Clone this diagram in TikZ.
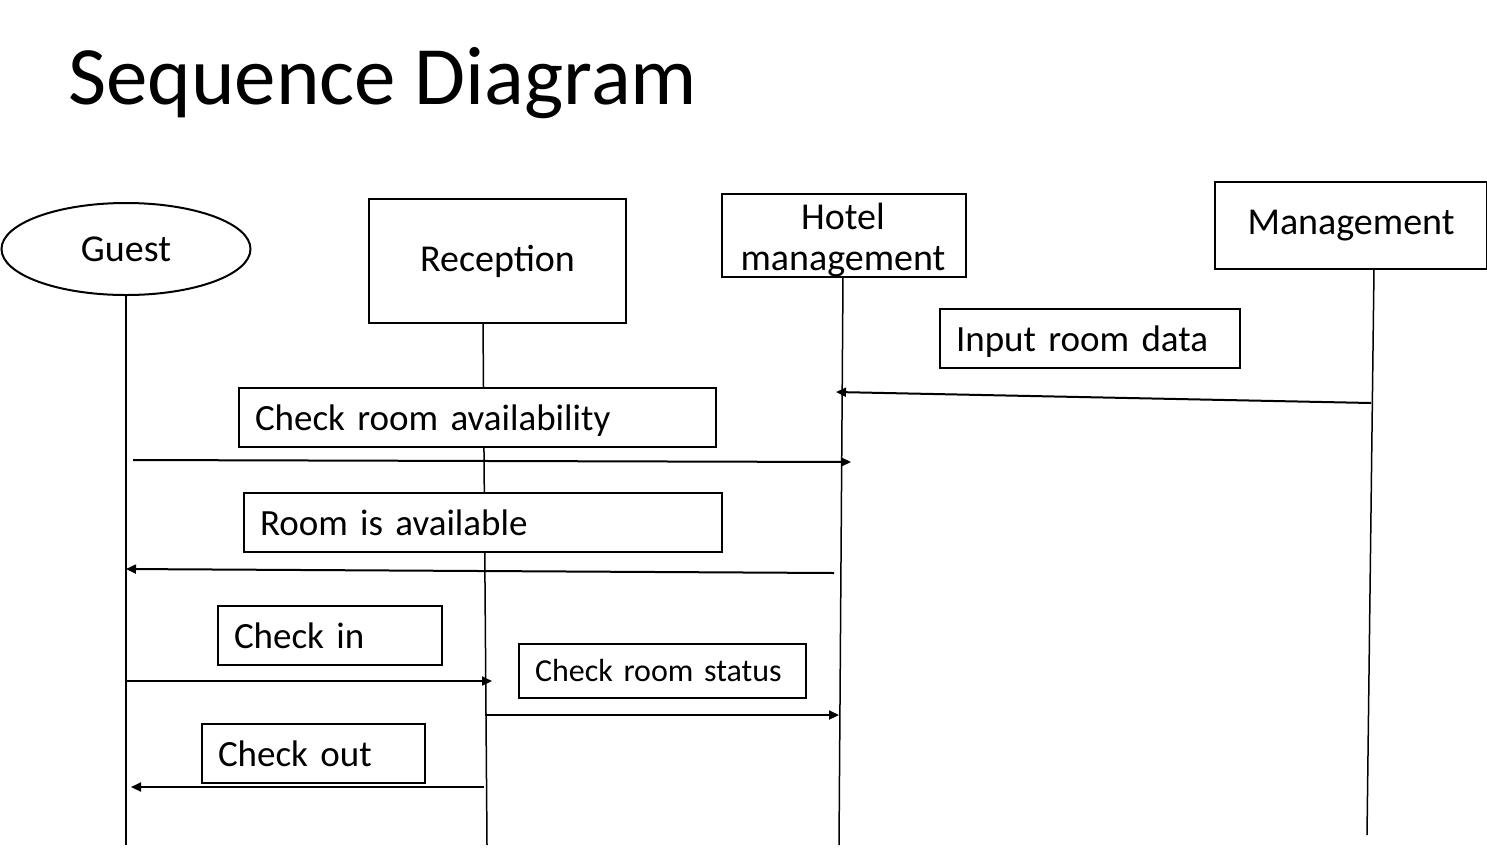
\documentclass[tikz,border=0pt]{standalone}
\usepackage{fontspec}
\setmainfont{Carlito}
\usetikzlibrary{arrows.meta,shapes.geometric}
\tikzset{
  box/.style={draw, fill=white, line width=2pt, rectangle, anchor=north west, inner xsep=16pt, inner ysep=0pt, align=left, text height=29pt, text depth=3pt, font=\fontsize{37}{44}\selectfont},
  actor/.style={draw, fill=white, line width=2pt, anchor=north west, inner sep=0pt, align=center, font=\fontsize{38}{44}\selectfont},
  life/.style={line width=1.5pt},
  msg/.style={line width=2pt, -{Triangle[length=10pt,width=9pt]}},
}
\begin{document}
\begin{tikzpicture}[x=1pt,y=-1pt]
\useasboundingbox (0,0) rectangle (1487,847);
\fill[white] (0,0) rectangle (1487,847);
% title
\node[anchor=base west, inner sep=0pt, font=\fontsize{83}{96}\selectfont] (title) at (68,104) {Sequence Diagram};
% actors
\node[draw, fill=white, line width=2pt, ellipse, minimum width=249pt, minimum height=92pt, inner sep=0pt, font=\fontsize{38}{44}\selectfont] (guest) at (126,249) {Guest};
\node[actor, minimum width=257pt, minimum height=124pt] (recep) at (368,198) {Reception};
\node[actor, minimum width=244pt, minimum height=83pt] (hotel) at (721,193) {};
\node[inner sep=0pt, align=center, font=\fontsize{38}{41}\selectfont] (hotelLbl) at (843,240) {Hotel\\management};
\node[actor, minimum width=272pt, minimum height=87pt] (mgmt) at (1214,181) {Management};
% lifeline ends
\coordinate (guestEnd) at (126,845);
\coordinate (recepTop) at (483,322);
\coordinate (recepEnd) at (487,845);
\coordinate (hotelTop) at (843,276);
\coordinate (hotelEnd) at (839,845);
\coordinate (mgmtTop) at (1374,268);
\coordinate (mgmtEnd) at (1367,835);
\draw[life] (guest.south) -- (guestEnd);
\draw[life] (recepTop) -- (recepEnd);
\draw[life] (hotelTop) -- (hotelEnd);
\draw[life] (mgmtTop) -- (mgmtEnd);
% message labels
\node[box, minimum width=300pt, minimum height=59pt, text width=268pt] (l1) at (939,308) {Input room data};
\node[box, minimum width=477pt, minimum height=59pt, text width=445pt] (l2) at (238,387) {Check room availability};
\node[box, minimum width=478pt, minimum height=59pt, text width=446pt] (l3) at (243,492) {Room is available};
\node[box, minimum width=224pt, minimum height=59pt, text width=192pt] (l4) at (217,605) {Check in};
\node[box, minimum width=287pt, minimum height=54pt, text width=255pt, text height=24pt, text depth=4pt, font=\fontsize{32}{38}\selectfont] (l5) at (518,643) {Check room status};
\node[box, minimum width=223pt, minimum height=59pt, text width=191pt] (l6) at (201,723) {Check out};
% message endpoints
\coordinate (m1s) at (1371,403); \coordinate (m1e) at (836,392);
\coordinate (m2s) at (133,460);  \coordinate (m2e) at (851,462);
\coordinate (m3s) at (834,573);  \coordinate (m3e) at (126,569);
\coordinate (m4s) at (126,681);  \coordinate (m4e) at (492,681);
\coordinate (m5s) at (485,715);  \coordinate (m5e) at (839,715);
\coordinate (m6s) at (484,787);  \coordinate (m6e) at (131,787);
\draw[msg] (m1s) -- (m1e);
\draw[msg] (m2s) -- (m2e);
\draw[msg] (m3s) -- (m3e);
\draw[msg] (m4s) -- (m4e);
\draw[msg] (m5s) -- (m5e);
\draw[msg] (m6s) -- (m6e);
\end{tikzpicture}
\end{document}
